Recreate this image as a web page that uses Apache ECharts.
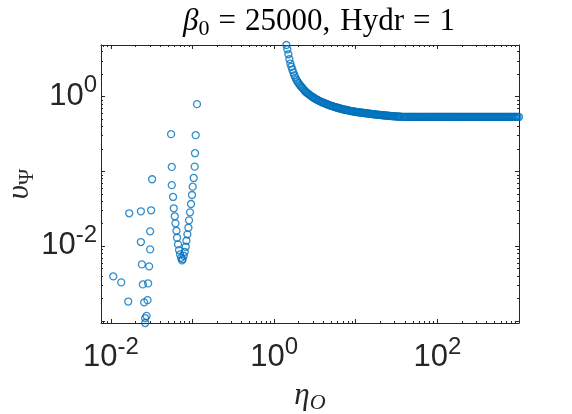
<!DOCTYPE html>
<html>
<head>
<meta charset="utf-8">
<script src="https://cdn.jsdelivr.net/npm/echarts@6/dist/echarts.min.js"></script>
<style>
  html, body { margin: 0; padding: 0; background: #fff; }
  #chart { width: 572px; height: 414px; }
</style>
</head>
<body>
<div id="chart"></div>
<script>
// axis limits (tight round the data, as in the original)
var xRange = [0.00757, 1000];
var yRange = [0.00094, 4.88];
var xLabelExp = [-2, 0, 2];
var yLabelExp = [-2, 0];

// scattered points at small eta_O
var scatterX = [0.0320, 0.01678, 0.02331, 0.03113, 0.03027, 0.02331, 0.03027, 0.02397, 0.02944, 0.01070,
  0.01340, 0.02465, 0.02862, 0.01632, 0.02557, 0.02813, 0.02630, 0.02735, 0.02630];
var scatterY = [0.0784, 0.02749, 0.02923, 0.03015, 0.01578, 0.01135, 0.00906, 0.00571, 0.00537, 0.00394,
  0.00328, 0.00308, 0.00318, 0.00182, 0.00177, 0.00190, 0.00109, 0.00117, 0.00094];

// the V shaped branch
var vX = [0.05464, 0.05572, 0.05572, 0.05779, 0.05894, 0.06062, 0.06182, 0.06358, 0.06466, 0.06651,
  0.06841, 0.07040, 0.07240, 0.07442, 0.07592, 0.07808, 0.08030, 0.08260, 0.08423, 0.08663,
  0.08913, 0.09065, 0.09322, 0.09587, 0.09861, 0.1006, 0.1034, 0.1064, 0.1073, 0.1094, 0.1135];
var vY = [0.3138, 0.1145, 0.0654, 0.04544, 0.03206, 0.02506, 0.02019, 0.01608, 0.01296, 0.01057,
  0.00887, 0.00777, 0.00699, 0.00645, 0.00672, 0.00744, 0.00841, 0.00982, 0.01181, 0.01439,
  0.01763, 0.02215, 0.02834, 0.03662, 0.04830, 0.06240, 0.08157, 0.1156, 0.1747, 0.3043, 0.791];

// the decaying branch for eta_O > 1
var curveX = [
  1.413, 1.453, 1.495, 1.537, 1.581, 1.627, 1.673, 1.721, 1.770, 1.820, 1.872, 1.926, 1.981,
  2.037, 2.155, 2.279, 2.411, 2.550, 2.698, 2.854, 3.019, 3.193, 3.378,
  3.573, 3.780, 3.998, 4.229, 4.474, 4.733, 5.006, 5.296, 5.602, 5.926,
  6.268, 6.631, 7.014, 7.419, 7.848, 8.302, 8.782, 9.290, 9.827, 10.39,
  11.00, 11.63, 12.30, 13.02, 13.77, 14.56, 15.41, 16.30, 17.24, 18.24,
  19.29, 20.41, 21.59, 22.84, 24.16, 25.55, 27.03, 28.59, 30.25, 32.00,
  33.85, 35.80];
var curveY = [
  4.88, 4.28, 3.67, 3.15, 2.757, 2.498, 2.277, 2.089, 1.922, 1.791, 1.673, 1.593, 1.521,
  1.457, 1.349, 1.256, 1.167, 1.110, 1.060, 1.012, 0.970, 0.932, 0.903,
  0.873, 0.847, 0.826, 0.806, 0.786, 0.767, 0.751, 0.737, 0.721, 0.708,
  0.697, 0.684, 0.674, 0.666, 0.656, 0.647, 0.639, 0.632, 0.626, 0.620,
  0.614, 0.609, 0.605, 0.599, 0.594, 0.590, 0.585, 0.581, 0.576, 0.572,
  0.569, 0.565, 0.562, 0.558, 0.555, 0.552, 0.548, 0.547, 0.543, 0.542,
  0.538, 0.537];

// more readings of the same branch, between the ones above
var curveX2 = [
  2.095, 2.216, 2.344, 2.480, 2.623, 2.775, 2.935, 3.105, 3.284, 3.474,
  3.675, 3.888, 4.112, 4.350, 4.601, 4.868, 5.149, 5.447, 5.762, 6.095,
  6.447, 6.820, 7.214, 7.630, 8.072, 8.539, 9.032, 9.555, 10.11, 10.69,
  11.31, 11.96, 12.65, 13.39, 14.16, 14.97, 15.85, 16.76, 17.73, 18.76,
  19.84, 20.99, 22.21, 23.49, 24.85, 26.28, 27.80, 29.40, 31.11, 32.91,
  34.81];
var curveY2 = [
  1.399, 1.302, 1.211, 1.138, 1.085, 1.036, 0.991, 0.950, 0.917, 0.888,
  0.860, 0.836, 0.816, 0.796, 0.777, 0.759, 0.744, 0.729, 0.715, 0.703,
  0.691, 0.679, 0.670, 0.661, 0.652, 0.643, 0.636, 0.629, 0.623, 0.617,
  0.612, 0.607, 0.602, 0.597, 0.592, 0.588, 0.583, 0.579, 0.574, 0.571,
  0.567, 0.564, 0.560, 0.557, 0.553, 0.550, 0.547, 0.545, 0.542, 0.540,
  0.537];

// the flat tail, eta_O from ~38 up to 1000
var plateauX = [
  37.87, 38.95, 40.06, 41.20, 42.38, 43.59, 44.83, 46.11, 47.42, 48.77,
  50.16, 51.59, 53.06, 54.57, 56.13, 57.73, 59.38, 61.07, 62.81, 64.60,
  66.44, 68.33, 70.29, 72.29, 74.35, 76.47, 78.65, 80.89,
  83.20, 85.57, 88.01, 90.52, 93.10, 95.75, 98.48, 101.3, 104.2, 107.2,
  110.2, 113.3, 116.6, 119.9, 123.3, 126.8, 130.4, 134.1, 138.0, 141.9,
  146.0, 150.2, 154.4, 158.8, 163.3, 168.0, 172.8, 177.7, 182.8, 188.0,
  193.3, 198.8, 204.5, 210.3, 216.3, 222.5, 228.8, 235.3, 242.1, 249.0,
  256.1, 263.4, 270.9, 278.6, 286.5, 294.7, 303.1, 311.7, 320.6, 329.7,
  339.2, 348.9, 358.8, 369.0, 379.5, 390.3, 401.5, 412.9, 424.7, 436.8,
  449.2, 462.0, 475.2, 488.7, 502.7, 517.0, 531.8, 547.0, 562.5, 578.5,
  595.1, 612.0, 629.5, 647.4, 665.9, 684.9, 704.4, 724.5, 745.2, 766.4,
  788.3, 810.8, 833.9, 857.7, 882.1, 907.2, 933.1, 959.7, 1000];
var plateauY = [
  0.535, 0.535, 0.535, 0.535, 0.535, 0.535, 0.535, 0.535, 0.535, 0.535,
  0.535, 0.535, 0.535, 0.535, 0.535, 0.535, 0.535, 0.535, 0.535, 0.535,
  0.535, 0.535, 0.535, 0.535, 0.535, 0.535, 0.535, 0.535,
  0.534, 0.534, 0.534, 0.534, 0.534, 0.534, 0.534, 0.534, 0.534, 0.534,
  0.534, 0.534, 0.534, 0.534, 0.534, 0.534, 0.534, 0.534, 0.534, 0.534,
  0.534, 0.534, 0.534, 0.534, 0.534, 0.534, 0.534, 0.534, 0.534, 0.534,
  0.534, 0.534, 0.534, 0.534, 0.534, 0.534, 0.534, 0.534, 0.534, 0.534,
  0.533, 0.533, 0.533, 0.533, 0.533, 0.533, 0.533, 0.533, 0.533, 0.533,
  0.533, 0.533, 0.533, 0.533, 0.533, 0.533, 0.533, 0.533, 0.533, 0.533,
  0.533, 0.533, 0.533, 0.533, 0.533, 0.533, 0.533, 0.533, 0.533, 0.533,
  0.533, 0.533, 0.533, 0.533, 0.533, 0.533, 0.533, 0.533, 0.533, 0.533,
  0.533, 0.533, 0.533, 0.533, 0.533, 0.533, 0.533, 0.533, 0.533];

var chart = echarts.init(document.getElementById('chart'));

var axisColor = '#262626';
var blue = '#0072BD';
var sans = 'Liberation Sans';
var serif = 'Liberation Serif';

function zip(xs, ys) {
  var out = [];
  for (var i = 0; i < Math.min(xs.length, ys.length); i++) out.push([xs[i], ys[i]]);
  return out;
}

function powLabel(exps) {
  return function (v) {
    var l = Math.log10(v), e = Math.round(l);
    if (Math.abs(l - e) > 1e-6 || exps.indexOf(e) < 0) return '';
    return '{b|10}{s|' + e + '}';
  };
}

function tickRich(topPad) {
  return {
    b: { fontFamily: sans, fontSize: 31, lineHeight: 30, color: axisColor, verticalAlign: 'bottom', padding: [topPad, 0, 0, 0] },
    s: { fontFamily: sans, fontSize: 24, lineHeight: 24, color: axisColor, verticalAlign: 'bottom', padding: [0, 0, 14, 0] }
  };
}

function logAxis(pos, range, exps, showLabel, extra) {
  var bottom = pos === 'bottom';
  var ax = {
    type: 'log',
    position: pos,
    min: range[0],
    max: range[1],
    logBase: 10,
    axisLine: { show: true, onZero: false, lineStyle: { color: axisColor, width: 1 } },
    axisTick: { show: true, inside: true, length: 4, lineStyle: { color: axisColor } },
    minorTick: { show: true, splitNumber: 9, length: 2, lineStyle: { color: axisColor } },
    splitLine: { show: false },
    axisLabel: showLabel ? {
      formatter: powLabel(exps),
      margin: bottom ? 20 : 4,
      fontSize: 31,
      fontFamily: sans,
      rich: tickRich(bottom ? 12 : 20)
    } : { show: false }
  };
  for (var k in extra) ax[k] = extra[k];
  return ax;
}

var ringStyle = { color: 'rgba(0,0,0,0)', borderColor: blue, borderWidth: 1.3 };

function ringSeries(data) {
  return {
    type: 'scatter',
    data: data,
    symbol: 'circle',
    symbolSize: 7,
    clip: false,
    itemStyle: ringStyle,
    emphasis: { disabled: true },
    animation: false
  };
}

var titleTok = function (extra) {
  var t = { fontFamily: serif, fontWeight: 'normal', fontSize: 31, lineHeight: 31, color: '#000', verticalAlign: 'bottom', padding: [0, 0, 3, 0] };
  for (var k in extra) t[k] = extra[k];
  return t;
};

chart.setOption({
  backgroundColor: '#fff',
  animation: false,
  title: {
    text: '{b|β}{s|0}{e|=}{c|25000,}{n|Hydr}{e|=}{n|1}',
    left: 314,
    top: 4,
    textAlign: 'center',
    textStyle: {
      fontWeight: 'normal',
      rich: {
        b: titleTok({ fontStyle: 'italic' }),
        s: titleTok({ fontSize: 22, lineHeight: 22, padding: 0 }),
        e: titleTok({ padding: [0, 9, 3, 9] }),
        c: titleTok({ padding: [0, 10, 3, 0] }),
        n: titleTok({})
      }
    }
  },
  grid: { left: 101, top: 45, right: 53, bottom: 91, outerBoundsMode: 'none', containLabel: false },
  xAxis: [
    logAxis('bottom', xRange, xLabelExp, true, {
      name: '{i|η}{o|O}',
      nameLocation: 'middle',
      nameGap: 60,
      nameMoveOverlap: false,
      nameTextStyle: {
        rich: {
          i: { fontFamily: serif, fontStyle: 'italic', fontSize: 31, lineHeight: 31, color: axisColor, verticalAlign: 'bottom', padding: [0, 0, 3, 0] },
          o: { fontFamily: serif, fontStyle: 'italic', fontSize: 22, lineHeight: 22, color: axisColor, verticalAlign: 'bottom' }
        }
      }
    }),
    logAxis('top', xRange, xLabelExp, false, {})
  ],
  yAxis: [
    logAxis('left', yRange, yLabelExp, true, {
      name: '{i|υ}{o|Ψ}',
      nameLocation: 'middle',
      nameGap: 63,
      nameRotate: 90,
      nameMoveOverlap: false,
      nameTextStyle: {
        rich: {
          i: { fontFamily: serif, fontStyle: 'italic', fontSize: 31, lineHeight: 31, color: axisColor, verticalAlign: 'bottom', padding: [0, 0, 3, 0] },
          o: { fontFamily: serif, fontSize: 22, lineHeight: 22, color: axisColor, verticalAlign: 'bottom' }
        }
      }
    }),
    logAxis('right', yRange, yLabelExp, false, {})
  ],
  series: [
    ringSeries(zip(scatterX, scatterY)),
    ringSeries(zip(vX, vY)),
    ringSeries(zip(curveX, curveY)),
    ringSeries(zip(curveX2, curveY2)),
    ringSeries(zip(plateauX, plateauY))
  ]
});
</script>
</body>
</html>
